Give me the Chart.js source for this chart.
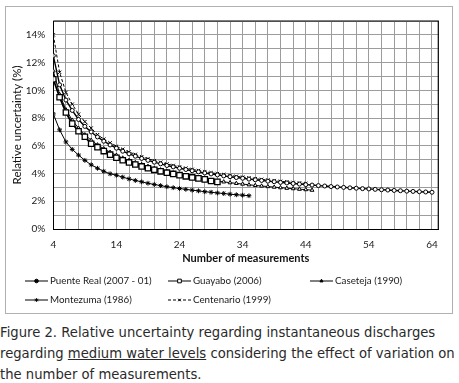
<!DOCTYPE html>
<html>
<head>
<meta charset="utf-8">
<script src="https://cdn.jsdelivr.net/npm/chart.js@4/dist/chart.umd.min.js"></script>
<style>
  body { margin: 0; background: #fff; width: 459px; height: 383px; position: relative; overflow: hidden; }
  #box { position: absolute; left: 5px; top: 6px; width: 446px; height: 306px; border: 1px solid #b0b0b0; }
  #caption { position: absolute; left: 0; top: 322px; width: 459px; font-family: "DejaVu Sans", sans-serif; font-size: 13.2px; line-height: 21px; color: #2a2a2a; white-space: normal; }
  #caption u { text-decoration: underline; }
</style>
</head>
<body>
<div id="box"><canvas id="grafico" width="446" height="306"></canvas></div>
<div id="caption">Figure 2. Relative uncertainty regarding instantaneous discharges regarding <u>medium water levels</u> considering the effect of variation on the number of measurements.</div>
<script>
// first measurement count of every series
const primeiroN = 4;

const puenteReal = [12.5, 10.4, 9.3, 8.55, 7.9, 7.4, 7.0, 6.64, 6.33, 6.06, 5.83, 5.61, 5.42, 5.25, 5.09, 4.95,
  4.82, 4.70, 4.58, 4.48, 4.38, 4.29, 4.20, 4.12, 4.04, 3.97, 3.90, 3.83, 3.77, 3.71, 3.66, 3.60, 3.55, 3.50,
  3.45, 3.41, 3.36, 3.32, 3.28, 3.24, 3.20, 3.17, 3.13, 3.10, 3.06, 3.03, 3.00, 2.97, 2.94, 2.91, 2.89, 2.86,
  2.83, 2.81, 2.78, 2.76, 2.73, 2.71, 2.69, 2.67, 2.65];
const guayabo = [10.8, 9.5, 8.4, 7.6, 7.05, 6.65, 6.15, 5.9, 5.62, 5.36, 5.14, 4.96, 4.8, 4.65, 4.51, 4.38,
  4.27, 4.16, 4.06, 3.97, 3.88, 3.80, 3.72, 3.65, 3.58, 3.46, 3.40];
const caseteja = [11.4, 9.7, 8.6, 7.85, 7.27, 6.8, 6.4, 6.07, 5.79, 5.54, 5.32, 5.12, 4.95, 4.79, 4.65, 4.52,
  4.38, 4.27, 4.15, 4.05, 3.96, 3.86, 3.76, 3.67, 3.58, 3.52, 3.45, 3.40, 3.34, 3.29, 3.24, 3.19, 3.14, 3.10,
  3.06, 3.02, 2.98, 2.94, 2.91, 2.87, 2.84, 2.80];
const montezuma = [8.3, 7.15, 6.28, 5.74, 5.33, 4.95, 4.63, 4.38, 4.16, 3.98, 3.88, 3.74, 3.61, 3.50, 3.40,
  3.30, 3.21, 3.13, 3.05, 2.98, 2.92, 2.86, 2.80, 2.75, 2.69, 2.65, 2.60, 2.56, 2.51, 2.47, 2.44, 2.40];
const centenario = [14.0, 11.3, 9.85, 9.0, 8.28, 7.74, 7.28, 6.80, 6.48, 6.21, 5.96, 5.75, 5.55, 5.38, 5.21,
  5.07, 4.93, 4.81, 4.69, 4.58, 4.48, 4.39, 4.30, 4.22, 4.14, 4.06, 3.99, 3.93, 3.86, 3.80, 3.74, 3.69, 3.63,
  3.58, 3.53, 3.49, 3.44, 3.40, 3.36, 3.32, 3.28];

const nomesSeries = ['Puente Real (2007 - 01)', 'Guayabo (2006)', 'Caseteja (1990)', 'Montezuma (1986)', 'Centenario (1999)'];

// axis ticks
const xMin = 4, xMax = 65, xPasso = 2, xRotulo = 10;
const yMin = 0, yMax = 15, yPasso = 1, yRotulo = 2;

function pontos(valores) {
    return valores.map((v, i) => ({ x: primeiroN + i, y: v }));
}

const fonteGrafico = 'Lato, "Liberation Sans", sans-serif';

// legend drawn in a fixed grid, like the original
const legendaGrade = {
    id: 'legendaGrade',
    afterDraw(chart) {
        const ctx = chart.ctx;
        const colunas = [19, 162, 304];
        const linhas = [274, 293];
        ctx.save();
        chart.data.datasets.forEach((ds, i) => {
            const x = colunas[i % 3];
            const y = linhas[Math.floor(i / 3)];
            ctx.strokeStyle = '#000';
            ctx.lineWidth = 1;
            ctx.setLineDash(ds.borderDash || []);
            ctx.beginPath();
            ctx.moveTo(x, y);
            ctx.lineTo(x + 23, y);
            ctx.stroke();
            ctx.setLineDash([]);
            if (Chart.helpers && Chart.helpers.drawPoint) {
                ctx.fillStyle = ds.pointStyle === 'rect' ? '#fff' : '#000';
                ctx.strokeStyle = '#000';
                Chart.helpers.drawPoint(ctx, {
                    pointStyle: ds.pointStyle,
                    radius: ds.pointStyle === 'rect' ? 2.6 : 1.8,
                    rotation: 0,
                    borderWidth: 1
                }, x + 11.5, y);
            }
            ctx.fillStyle = '#1a1a1a';
            ctx.font = '9.8px ' + fonteGrafico;
            ctx.textBaseline = 'middle';
            ctx.textAlign = 'left';
            ctx.fillText(ds.label, x + 25, y);
        });
        ctx.restore();
    }
};

// black frame on top and right of the plot area
const moldura = {
    id: 'moldura',
    afterDatasetsDraw(chart) {
        const a = chart.chartArea;
        const ctx = chart.ctx;
        ctx.save();
        ctx.strokeStyle = '#000';
        ctx.lineWidth = 1.2;
        ctx.beginPath();
        ctx.moveTo(a.left, a.top);
        ctx.lineTo(a.right, a.top);
        ctx.lineTo(a.right, a.bottom);
        ctx.stroke();
        ctx.restore();
    }
};

const ctx = document.getElementById('grafico');

new Chart(ctx, {
    type: 'line',
    data: {
        datasets: [
            {
                label: nomesSeries[0],
                data: pontos(puenteReal),
                borderColor: '#000',
                borderWidth: 1.4,
                pointStyle: 'circle',
                pointRadius: 2,
                pointBackgroundColor: '#fff',
                pointBorderColor: '#000',
                pointBorderWidth: 1
            },
            {
                label: nomesSeries[1],
                data: pontos(guayabo),
                borderColor: '#000',
                borderWidth: 1.8,
                pointStyle: 'rect',
                pointRadius: 3.8,
                pointBackgroundColor: '#fff',
                pointBorderColor: '#000',
                pointBorderWidth: 1.3
            },
            {
                label: nomesSeries[2],
                data: pontos(caseteja),
                borderColor: '#000',
                borderWidth: 1,
                pointStyle: 'triangle',
                pointRadius: 2.2,
                pointBackgroundColor: '#fff',
                pointBorderColor: '#000',
                pointBorderWidth: 1
            },
            {
                label: nomesSeries[3],
                data: pontos(montezuma),
                borderColor: '#000',
                borderWidth: 1,
                pointStyle: 'star',
                pointRadius: 2.4,
                pointBackgroundColor: '#000',
                pointBorderColor: '#000',
                pointBorderWidth: 1
            },
            {
                label: nomesSeries[4],
                data: pontos(centenario),
                borderColor: '#000',
                borderWidth: 1,
                borderDash: [3, 2],
                pointStyle: 'crossRot',
                pointRadius: 2.4,
                pointBackgroundColor: '#000',
                pointBorderColor: '#000',
                pointBorderWidth: 1
            }
        ]
    },
    options: {
        responsive: false,
        animation: false,
        layout: {
            padding: { left: 0, top: 9.5, right: 13.7, bottom: 48 }
        },
        plugins: {
            legend: { display: false },
            tooltip: { enabled: false }
        },
        scales: {
            x: {
                type: 'linear',
                min: xMin,
                max: xMax,
                afterFit: function (s) { s.height = 36; },
                ticks: {
                    stepSize: xPasso,
                    includeBounds: false,
                    autoSkip: false,
                    maxRotation: 0,
                    padding: 10,
                    color: '#222',
                    font: { family: fonteGrafico, size: 10 },
                    callback: function (v) { return (v - xMin) % xRotulo === 0 ? String(v) : ''; }
                },
                grid: { color: '#9c9c9c', lineWidth: 1, drawTicks: false },
                border: { color: '#000', width: 1 },
                title: {
                    display: true,
                    text: 'Number of measurements',
                    color: '#111',
                    font: { family: fonteGrafico, size: 11, weight: 'bold' },
                    padding: { top: 2, bottom: 0 }
                }
            },
            y: {
                min: yMin,
                max: yMax,
                afterFit: function (s) { s.width = 47.3; },
                ticks: {
                    stepSize: yPasso,
                    autoSkip: false,
                    padding: 8,
                    color: '#222',
                    font: { family: fonteGrafico, size: 10 },
                    callback: function (v) { return v % yRotulo === 0 && v < yMax ? v + '%' : ''; }
                },
                grid: { color: '#9c9c9c', lineWidth: 1, drawTicks: false },
                border: { color: '#000', width: 1 },
                title: {
                    display: true,
                    text: 'Relative uncertainty (%)',
                    color: '#111',
                    font: { family: fonteGrafico, size: 11.5 },
                    padding: { top: 4, bottom: 0 }
                }
            }
        }
    },
    plugins: [legendaGrade, moldura]
});
</script>
</body>
</html>
